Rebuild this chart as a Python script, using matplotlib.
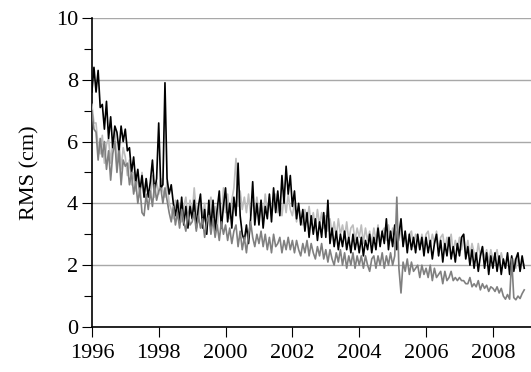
import numpy as np
import matplotlib
matplotlib.use("Agg")
import matplotlib.pyplot as plt
from matplotlib.ticker import MultipleLocator

plt.rcParams["font.family"] = ["Liberation Serif", "DejaVu Serif"]

# 16 samples per year, 1996 .. 2008
samples_per_year = 16
start_year = 1996

black_series = [
    7.6, 8.4, 7.6, 8.3, 7.1, 7.2, 6.4, 7.3, 6.1, 6.8, 5.8, 6.5, 6.3, 5.7, 6.5, 6.0,  # 1996
    6.4, 5.7, 5.8, 5.0, 5.5, 4.7, 5.1, 4.4, 4.9, 4.2, 4.8, 4.2, 4.7, 5.4, 4.4, 4.8,  # 1997
    6.6, 4.5, 4.6, 7.9, 4.8, 4.3, 4.6, 4.0, 3.6, 4.1, 3.4, 4.2, 3.3, 3.9, 3.2, 3.9,  # 1998
    3.5, 4.1, 3.2, 3.9, 4.3, 3.2, 3.8, 3.0, 4.1, 3.2, 4.1, 3.1, 3.8, 4.4, 3.2, 3.9,  # 1999
    4.5, 3.4, 4.0, 3.2, 4.2, 3.6, 5.3, 3.6, 3.0, 2.8, 3.3, 2.7, 3.5, 4.7, 3.3, 4.0,  # 2000
    3.3, 4.1, 3.2, 3.9, 3.5, 4.3, 3.4, 4.5, 3.7, 4.4, 3.6, 4.9, 4.0, 5.2, 4.3, 4.9,  # 2001
    3.9, 4.4, 3.5, 4.0, 3.3, 3.8, 3.1, 3.7, 2.9, 3.6, 3.0, 3.5, 2.8, 3.4, 2.9, 3.7,  # 2002
    2.9, 4.1, 2.7, 3.2, 2.6, 3.1, 2.5, 3.0, 2.6, 3.1, 2.5, 2.9, 2.4, 3.0, 2.5, 2.9,  # 2003
    2.4, 2.9, 2.3, 2.8, 2.5, 3.0, 2.4, 2.9, 2.5, 3.2, 2.6, 3.1, 2.7, 3.5, 2.5, 3.1,  # 2004
    2.6, 3.3, 2.5, 3.0, 3.5, 2.6, 3.1, 2.4, 3.0, 2.5, 2.9, 2.4, 3.0, 2.5, 2.9, 2.3,  # 2005
    2.9, 2.4, 2.8, 2.2, 2.7, 3.0, 2.3, 2.8, 2.1, 2.7, 2.3, 2.9, 2.2, 2.6, 2.1, 2.7,  # 2006
    2.3, 2.9, 3.0, 2.2, 2.6, 2.0, 2.5, 1.9, 2.4, 1.8, 2.3, 2.6, 1.9, 2.4, 1.7, 2.3,  # 2007
    1.9, 2.4, 1.8, 2.3, 1.7, 2.2, 1.9, 2.4, 1.7, 2.3, 1.8, 2.2, 2.4, 1.8, 2.3, 1.9,  # 2008
]

light_series = [
    7.2, 6.6, 6.6, 5.8, 5.6, 6.2, 5.3, 5.9, 6.1, 5.3, 6.0, 6.4, 5.2, 6.0, 5.1, 5.8,  # 1996
    5.5, 4.9, 5.4, 4.6, 5.0, 4.4, 4.9, 4.2, 5.0, 4.2, 4.8, 4.3, 4.2, 4.9, 4.2, 4.7,  # 1997
    4.3, 4.8, 4.4, 4.2, 4.7, 4.0, 3.8, 3.5, 4.1, 3.6, 4.0, 3.4, 3.9, 4.2, 3.5, 4.1,  # 1998
    3.6, 4.5, 3.7, 3.4, 4.1, 3.5, 4.0, 3.1, 3.8, 4.2, 3.3, 3.9, 3.2, 4.0, 3.4, 4.5,  # 1999
    3.7, 4.3, 3.5, 4.1, 4.5, 5.45, 3.9, 4.4, 3.8, 4.2, 3.7, 4.3, 3.6, 4.1, 3.7, 4.2,  # 2000
    3.6, 4.1, 3.5, 4.3, 3.7, 4.2, 3.6, 4.0, 4.3, 3.7, 4.1, 3.6, 4.2, 3.7, 4.3, 3.8,  # 2001
    3.6, 4.0, 3.4, 3.9, 3.5, 3.3, 3.8, 3.4, 3.9, 3.3, 3.7, 3.2, 3.8, 3.3, 3.7, 3.2,  # 2002
    3.6, 3.1, 3.5, 3.0, 3.4, 2.9, 3.5, 3.0, 3.3, 2.9, 3.4, 2.8, 3.2, 3.3, 2.8, 3.2,  # 2003
    2.9, 3.3, 2.7, 3.2, 2.8, 3.1, 2.7, 3.2, 2.8, 3.3, 2.7, 3.1, 3.2, 2.8, 3.3, 2.8,  # 2004
    3.2, 2.7, 3.1, 2.8, 3.2, 2.7, 3.1, 2.6, 3.0, 3.1, 2.6, 3.0, 2.9, 2.5, 3.0, 2.6,  # 2005
    3.0, 3.1, 2.6, 3.0, 2.7, 3.1, 2.5, 2.9, 3.0, 2.5, 2.9, 2.6, 3.0, 2.4, 2.8, 2.5,  # 2006
    2.9, 2.5, 3.0, 2.4, 2.8, 2.3, 2.7, 2.4, 2.2, 2.7, 2.3, 2.6, 2.2, 2.5, 2.1, 2.5,  # 2007
    2.2, 2.3, 2.5, 2.0, 2.4, 2.1, 1.9, 2.3, 2.0, 1.8, 2.2, 1.9, 2.3, 1.8, 2.1, 2.0,  # 2008
]

dark_series = [
    7.0, 6.4, 6.3, 5.4, 6.1, 5.5, 6.0, 5.1, 5.7, 4.75, 5.6, 6.0, 5.0, 5.7, 4.6, 5.4,  # 1996
    5.2, 5.3, 4.6, 5.0, 4.3, 4.7, 4.0, 4.5, 3.7, 3.6, 4.3, 3.8, 4.4, 3.9, 4.6, 4.1,  # 1997
    4.4, 4.5, 4.0, 4.5, 4.1, 3.7, 3.4, 3.9, 3.3, 3.7, 3.2, 3.8, 3.4, 3.1, 3.7, 3.3,  # 1998
    3.4, 3.7, 3.1, 3.6, 3.2, 3.5, 2.9, 3.4, 3.6, 3.0, 3.5, 2.9, 3.3, 2.8, 3.4, 3.0,  # 1999
    3.3, 2.8, 3.2, 2.7, 3.1, 3.3, 2.6, 3.1, 2.5, 2.9, 2.4, 3.0, 3.4, 2.9, 2.6, 3.0,  # 2000
    2.7, 3.1, 2.6, 3.0, 2.5, 2.9, 2.4, 3.0, 2.6, 2.7, 2.9, 2.4, 2.8, 2.5, 2.9, 2.5,  # 2001
    2.8, 2.4, 2.8, 2.5, 2.3, 2.7, 2.4, 2.8, 2.3, 2.7, 2.4, 2.2, 2.6, 2.3, 2.7, 2.2,  # 2002
    2.5, 2.1, 2.5, 2.2, 2.0, 2.4, 2.1, 2.5, 2.0, 2.4, 1.9, 2.3, 2.0, 2.4, 1.9, 2.3,  # 2003
    2.0, 2.3, 1.9, 2.3, 2.0, 1.8, 2.2, 2.3, 1.9, 2.3, 2.0, 2.4, 1.9, 2.3, 2.0, 2.4,  # 2004
    2.0, 2.3, 4.2, 1.9, 1.1, 2.1, 1.8, 2.2, 1.7, 2.1, 1.8, 1.9, 2.0, 1.6, 2.0, 1.7,  # 2005
    1.9, 1.6, 2.0, 1.5, 1.9, 1.6, 1.7, 1.8, 1.4, 1.8, 1.5, 1.6, 1.8, 1.5, 1.6, 1.5,  # 2006
    1.6, 1.5, 1.5, 1.4, 1.4, 1.6, 1.3, 1.4, 1.3, 1.5, 1.2, 1.4, 1.25, 1.35, 1.15, 1.3,  # 2007
    1.25, 1.15, 1.3, 1.1, 1.25, 1.0, 0.9, 1.05, 0.9, 2.2, 0.95, 0.88, 1.0, 0.92, 1.08, 1.2,  # 2008
]

years = start_year + np.arange(len(black_series)) / samples_per_year

fig = plt.figure(figsize=(5.31, 3.72), dpi=100)
ax = fig.add_axes([0.173, 0.121, 0.827, 0.831])

ax.plot(years, light_series, color="#bdbdbd", lw=1.2, zorder=3)
ax.plot(years, black_series, color="black", lw=1.2, zorder=4)
ax.plot(years, dark_series, color="#808080", lw=1.2, zorder=5)

ax.set_xlim(1996, 2009.14)
ax.set_ylim(0, 10)
ax.set_xticks(range(1996, 2009, 2))
ax.yaxis.set_major_locator(MultipleLocator(2))
ax.yaxis.set_minor_locator(MultipleLocator(1))
ax.tick_params(axis="both", which="major", direction="out", length=7, width=0.8,
               labelsize=16)
ax.tick_params(axis="x", pad=5)
ax.tick_params(axis="y", pad=3)
ax.tick_params(axis="y", which="minor", direction="out", length=6, width=0.8)

ax.yaxis.grid(True, color="#a8a8a8", lw=1.0, zorder=0)
ax.set_axisbelow(True)
for side in ["top", "right"]:
    ax.spines[side].set_visible(False)
ax.spines["left"].set_linewidth(1.2)
ax.spines["bottom"].set_linewidth(1.2)

ax.set_ylabel("RMS (cm)", fontsize=16, labelpad=12)

fig.savefig("out.png", dpi=100)
